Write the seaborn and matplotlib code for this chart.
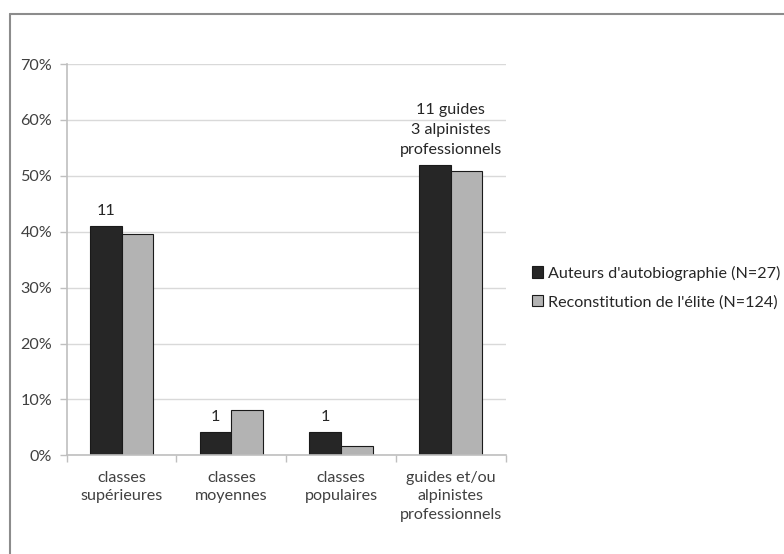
import matplotlib
matplotlib.use("Agg")
import matplotlib.pyplot as plt
import seaborn as sns
import pandas as pd
from matplotlib.patches import Patch
from matplotlib.lines import Line2D
from matplotlib.ticker import FuncFormatter, FixedLocator

categories = ["classes\nsupérieures", "classes\nmoyennes", "classes\npopulaires",
              "guides et/ou\nalpinistes\nprofessionnels"]
series_names = ["Auteurs d'autobiographie (N=27)", "Reconstitution de l'élite (N=124)"]
autobio = [41.0, 4.1, 4.1, 51.9]
elite = [39.5, 8.1, 1.7, 50.8]
annotations = ["11", "1", "1", "11 guides\n3 alpinistes\nprofessionnels"]
colors = ["#262626", "#b3b3b3"]

sns.set_theme(style="white")
plt.rcParams['font.family'] = ['Lato', 'DejaVu Sans']
FS = 11.6

df = pd.DataFrame({
    "cat": categories * 2,
    "series": [series_names[0]] * 4 + [series_names[1]] * 4,
    "value": autobio + elite,
})

fig = plt.figure(figsize=(7.84, 5.54), dpi=100)
ax = fig.add_axes([66.7 / 784, 1 - 455.3 / 554, (505.7 - 66.7) / 784, (455.3 - 64) / 554])

sns.barplot(data=df, x="cat", y="value", hue="series", palette=colors,
            width=0.576, edgecolor="#1a1a1a", linewidth=0.8, ax=ax, legend=False,
            errorbar=None)

ax.set_ylim(0, 70)
ax.set_xlim(-0.5, 3.5)
ax.set_yticks(range(0, 71, 10))
ax.yaxis.set_major_formatter(FuncFormatter(lambda v, p: f"{int(v)}%"))
ax.grid(axis="y", color="#d9d9d9", linewidth=1)
ax.set_axisbelow(True)
ax.set_xlabel("")
ax.set_ylabel("")
for s in ["top", "right"]:
    ax.spines[s].set_visible(False)
ax.spines["left"].set_color("#bfbfbf")
ax.spines["bottom"].set_color("#bfbfbf")
ax.spines["left"].set_linewidth(1.2)
ax.spines["bottom"].set_linewidth(1.2)

ax.tick_params(axis="y", which="major", length=5, width=1, color="#bfbfbf",
               labelsize=FS, labelcolor="#404040", pad=5.5, left=True)
ax.tick_params(axis="x", which="major", length=0, labelsize=FS, labelcolor="#404040", pad=11)
ax.xaxis.set_minor_locator(FixedLocator([-0.5, 0.5, 1.5, 2.5, 3.5]))
ax.tick_params(axis="x", which="minor", length=5, width=1, color="#bfbfbf", bottom=True)
for lab in ax.get_xticklabels():
    lab.set_linespacing(1.43)

# annotations over bars
for i, txt in enumerate(annotations):
    if i < 3:
        ax.annotate(txt, (i - 0.144, autobio[i]), xytext=(0, 15.3),
                    textcoords="offset pixels", ha="center", va="center",
                    fontsize=FS, color="#262626")
    else:
        ax.annotate(txt, (i, max(autobio[i], elite[i])), xytext=(0, 35.5),
                    textcoords="offset pixels", ha="center", va="center",
                    fontsize=FS, color="#262626", linespacing=1.53)

handles = [Patch(facecolor=colors[0], edgecolor="#1a1a1a", linewidth=0.8),
           Patch(facecolor=colors[1], edgecolor="#1a1a1a", linewidth=0.8)]
fig.legend(handles, series_names, loc="center left",
           bbox_to_anchor=(517 / 784, 1 - 287.5 / 554), frameon=False,
           fontsize=FS, handlelength=0.7, handleheight=0.7, handletextpad=0.3,
           labelspacing=0.88, labelcolor="#262626")

# outer chart border
fig.add_artist(Line2D([9.5 / 784, 9.5 / 784], [0, 1 - 13.5 / 554], transform=fig.transFigure,
                      color="#8c8c8c", linewidth=1.5))
fig.add_artist(Line2D([9.5 / 784, 1], [1 - 13.5 / 554, 1 - 13.5 / 554], transform=fig.transFigure,
                      color="#8c8c8c", linewidth=1.5))

fig.savefig("out.png", dpi=100)
